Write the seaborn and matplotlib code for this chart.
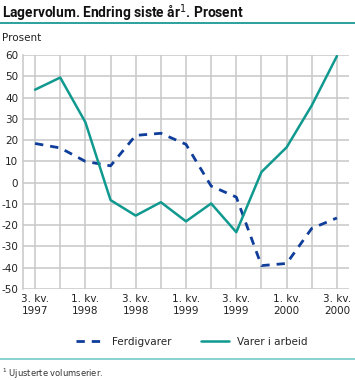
import matplotlib
matplotlib.use("Agg")
import matplotlib.pyplot as plt
from matplotlib.lines import Line2D
import seaborn as sns
import pandas as pd
import numpy as np

# Quarterly data, 3rd quarter 1997 - 3rd quarter 2000
quarters = ["3. kv.\n1997", "4. kv.\n1997", "1. kv.\n1998", "2. kv.\n1998",
            "3. kv.\n1998", "4. kv.\n1998", "1. kv.\n1999", "2. kv.\n1999",
            "3. kv.\n1999", "4. kv.\n1999", "1. kv.\n2000", "2. kv.\n2000",
            "3. kv.\n2000"]
ferdigvarer = [18.4, 16.3, 10, 7.9, 22.2, 23.2, 18.0, -1.6, -6.8, -39, -38, -21.5, -16.6]
varer_i_arbeid = [43.7, 49.4, 28.4, -8.2, -15.5, -9.2, -18.2, -9.8, -23.3, 5, 16.6, 36.3, 59.5]
yticks = list(range(-50, 61, 10))

BLUE = "#0f3d9a"
TEAL = "#10998f"
GRID = "#c8c8c8"

sns.set_theme(style="white")
plt.rcParams["font.family"] = ["DejaVu Sans"]

df = pd.DataFrame({"pos": np.arange(len(quarters)),
                   "Ferdigvarer": ferdigvarer,
                   "Varer i arbeid": varer_i_arbeid})

fig = plt.figure(figsize=(3.55, 3.8), dpi=100)
ax = fig.add_axes([23 / 355, 1 - 289 / 380, (349 - 23) / 355, (289 - 55) / 380])

sns.lineplot(data=df, x="pos", y="Ferdigvarer", ax=ax, color=BLUE,
             linewidth=2, linestyle=(0, (3, 2.5)))
sns.lineplot(data=df, x="pos", y="Varer i arbeid", ax=ax, color=TEAL, linewidth=1.8)

ax.set_xlim(-0.48, len(quarters) - 0.52)
ax.set_ylim(-50, 60)
ax.set_yticks(yticks)
ax.set_yticklabels([str(v) for v in yticks])
ax.set_xticks(df["pos"])
ax.set_xticklabels([q if i % 2 == 0 else "" for i, q in enumerate(quarters)])
ax.set_xlabel("")
ax.set_ylabel("")
ax.grid(True, color=GRID, linewidth=1.1)
ax.set_axisbelow(True)
for side in ["top", "right", "bottom"]:
    ax.spines[side].set_visible(False)
ax.spines["left"].set_color(GRID)
ax.spines["left"].set_linewidth(1.1)
ax.tick_params(axis="both", length=0, labelsize=7.5, colors="#222222", pad=3.5)
for lbl in ax.get_xticklabels():
    lbl.set_linespacing(1.25)

# title and decorations
fig.text(0.006, 0.966, "Lagervolum. Endring siste år$^{1}$. Prosent", fontsize=9.9,
         fontweight="bold", family=["Roboto", "DejaVu Sans"],
         va="center", ha="left", color="#111111")
fig.add_artist(Line2D([0, 1], [1 - 23.3 / 380] * 2, color="#1a9a96", linewidth=1.3))
fig.text(0.006, 1 - 38 / 380, "Prosent", fontsize=7.5, va="center", ha="left", color="#222222")

handles = [Line2D([], [], color=BLUE, linewidth=2, linestyle=(0, (3, 2.5))),
           Line2D([], [], color=TEAL, linewidth=1.8)]
fig.legend(handles, ["Ferdigvarer", "Varer i arbeid"], loc="center",
           bbox_to_anchor=(0.54, 1 - 341.7 / 380), ncol=2, frameon=False,
           fontsize=7.5, handlelength=2.7, columnspacing=2.8)

fig.add_artist(Line2D([0, 1], [1 - 359.3 / 380] * 2, color="#7fcfcc", linewidth=1.3))
fig.text(0.006, 1 - 374 / 380, "$^{1}$ Ujusterte volumserier.", fontsize=6,
         va="center", ha="left", color="#333333")

fig.savefig("out.png", dpi=100)
